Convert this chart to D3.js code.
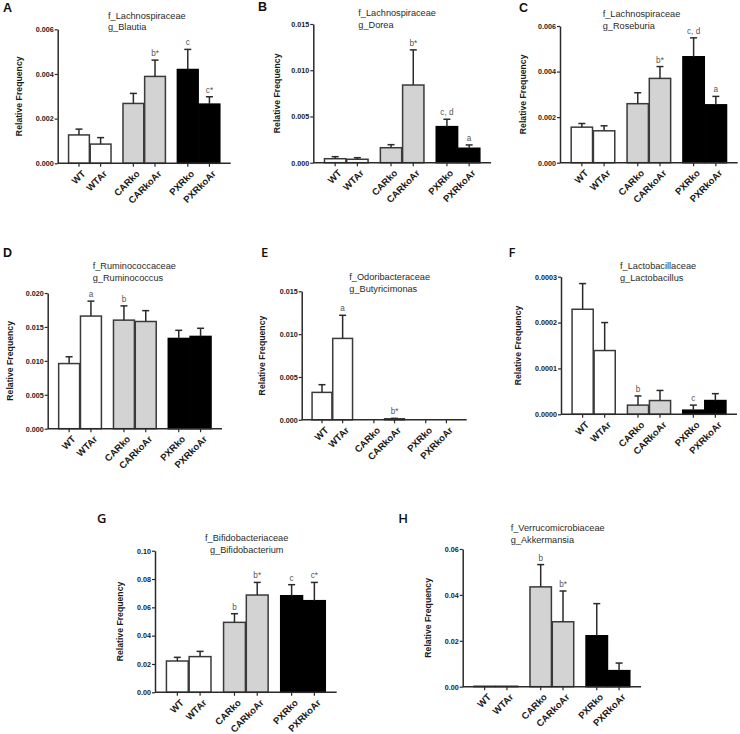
<!DOCTYPE html>
<html><head><meta charset="utf-8">
<script src="https://cdn.jsdelivr.net/npm/d3@7"></script>
<style>body{margin:0;background:#fff}svg{display:block}</style>
</head><body>
<script>
// ---------- data ----------
const categories = ["WT","WTAr","CARko","CARkoAr","PXRko","PXRkoAr"];
const groups = ["WT","CARko","PXRko"];
const groupOf = [0,0,1,1,2,2];
const pairIndex = [0,1,0,1,0,1];
const groupFills = ["#ffffff","#d3d3d3","#000000"];

const blautiaMean = [0.00127,0.00086,0.00268,0.00389,0.0042,0.00265];
const blautiaSem  = [0.00026,0.00029,0.00045,0.00073,0.0009,0.00033];
const blautiaSig  = ["","","","b*","c","c*"];

const doreaMean = [0.00043,0.00037,0.00162,0.0084,0.0039,0.00156];
const doreaSem  = [0.00022,0.00017,0.00033,0.0038,0.0008,0.00036];
const doreaSig  = ["","","","b*","c, d","a"];

const roseburiaMean = [0.00156,0.0014,0.00259,0.0037,0.00465,0.00254];
const roseburiaSem  = [0.00016,0.00022,0.00048,0.00052,0.00083,0.00037];
const roseburiaSig  = ["","","","b*","c, d","a"];

const ruminococcusMean = [0.0096,0.0166,0.016,0.0158,0.0133,0.0136];
const ruminococcusSem  = [0.001,0.0022,0.0021,0.0016,0.0012,0.0012];
const ruminococcusSig  = ["","a","b","","",""];

const butyricimonasMean = [0.0032,0.0095,0,0.00012,0,0];
const butyricimonasSem  = [0.0009,0.0027,0,0.00005,0,0];
const butyricimonasSig  = ["","a","","b*","",""];

const lactobacillusMean = [0.000229,0.000139,0.00002,0.00003,0.000009,0.00003];
const lactobacillusSem  = [0.000056,0.000061,0.00002,0.000022,0.000011,0.000015];
const lactobacillusSig  = ["","","b","","c",""];

const bifidoMean = [0.0221,0.0252,0.0494,0.0687,0.0682,0.0647];
const bifidoSem  = [0.0026,0.0037,0.0061,0.0089,0.0078,0.0129];
const bifidoSig  = ["","","b","b*","c","c*"];

const akkermansiaMean = [0.0002,0.0002,0.0435,0.0283,0.0222,0.007];
const akkermansiaSem  = [0,0,0.0097,0.0134,0.014,0.0033];
const akkermansiaSig  = ["","","b","b*","",""];

const ticks3 = [0,0.002,0.004,0.006];
const ticks15 = [0,0.005,0.010,0.015];
const ticks20 = [0,0.005,0.010,0.015,0.020];
const ticksF = [0,0.0001,0.0002,0.0003];
const ticksG = [0,0.02,0.04,0.06,0.08,0.10];
const ticksH = [0,0.02,0.04,0.06];

// ---------- layout ----------
const panels = [
 {letter:"A",lx:3,ly:12,bold:true,fam:"f_Lachnospiraceae",gen:"g_Blautia",tx:108,ty:18.5,ta:"start",
  x0:57.7,x1:230.7,yb:163.3,yt:29.3,ticks:ticks3,fmt:".3f",ylo:38.5,mean:blautiaMean,sem:blautiaSem,sig:blautiaSig},
 {letter:"B",lx:258,ly:11,bold:true,fam:"f_Lachnospiraceae",gen:"g_Dorea",tx:358.3,ty:16,ta:"start",
  x0:313.3,x1:491,yb:162.7,yt:24,ticks:ticks15,fmt:".3f",ylo:36.6,mean:doreaMean,sem:doreaSem,sig:doreaSig},
 {letter:"C",lx:519,ly:12,bold:true,fam:"f_Lachnospiraceae",gen:"g_Roseburia",tx:602.7,ty:17.3,ta:"start",
  x0:560,x1:737.7,yb:162.7,yt:26,ticks:ticks3,fmt:".3f",ylo:36.7,mean:roseburiaMean,sem:roseburiaSem,sig:roseburiaSig},
 {letter:"D",lx:3,ly:257,bold:true,fam:"f_Ruminococcaceae",gen:"g_Ruminococcus",tx:92.7,ty:269.3,ta:"start",
  x0:47.7,x1:222,yb:428.7,yt:293,ticks:ticks20,fmt:".3f",ylo:37.7,mean:ruminococcusMean,sem:ruminococcusSem,sig:ruminococcusSig},
 {letter:"E",lx:261,ly:257,bold:false,fam:"f_Odoribacteraceae",gen:"g_Butyricimonas",tx:349.3,ty:280,ta:"start",
  x0:301.7,x1:466.7,yb:419.8,yt:291.3,ticks:ticks15,fmt:".3f",ylo:39.4,mean:butyricimonasMean,sem:butyricimonasSem,sig:butyricimonasSig},
 {letter:"F",lx:508.5,ly:257,bold:false,fam:"f_Lactobacillaceae",gen:"g_Lactobacillus",tx:620,ty:269,ta:"start",
  x0:561,x1:737,yb:414.3,yt:276.7,ticks:ticksF,fmt:".4f",ylo:42.7,mean:lactobacillusMean,sem:lactobacillusSem,sig:lactobacillusSig},
 {letter:"G",lx:97,ly:523,bold:false,fam:"f_Bifidobacteriaceae",gen:"g_Bifidobacterium",tx:246.7,ty:541,ta:"middle",
  x0:155,x1:336.7,yb:692.3,yt:550.7,ticks:ticksG,fmt:".2f",ylo:35,mean:bifidoMean,sem:bifidoSem,sig:bifidoSig},
 {letter:"H",lx:398.3,ly:523,bold:false,fam:"f_Verrucomicrobiaceae",gen:"g_Akkermansia",tx:510.7,ty:531,ta:"start",
  x0:462.7,x1:641,yb:686.7,yt:549,ticks:ticksH,fmt:".2f",ylo:34.4,mean:akkermansiaMean,sem:akkermansiaSem,sig:akkermansiaSig}
];

const FONT = "'Liberation Sans', Arial, sans-serif";
const svg = d3.select("body").append("svg").attr("width",740).attr("height",734)
  .style("font-family",FONT);

panels.forEach(p => {
  const g = svg.append("g");
  const yMax = p.ticks[p.ticks.length-1];
  const y = d3.scaleLinear().domain([0,yMax]).range([p.yb,p.yt]);
  const gx = d3.scaleBand().domain(groups).range([p.x0,p.x1]).paddingInner(0.22).paddingOuter(0.2);
  const ix = d3.scaleBand().domain([0,1]).range([0,gx.bandwidth()]).paddingInner(0.04);
  const bx = i => gx(groups[groupOf[i]]) + ix(pairIndex[i]);
  const cx = i => bx(i) + ix.bandwidth()/2;

  // panel letter
  g.append("text").attr("x",p.lx).attr("y",p.ly)
    .style("font-family", p.bold ? FONT : "'Open Sans', sans-serif")
    .attr("font-weight", p.bold ? "bold" : "600")
    .attr("font-size", p.bold ? 12.5 : 13).attr("fill","#111").text(p.letter);

  // title
  g.append("text").attr("x",p.tx).attr("y",p.ty).attr("text-anchor",p.ta)
    .attr("font-size",9.2).attr("fill","#2a2a2a").text(p.fam);
  g.append("text").attr("x",p.tx).attr("y",p.ty+11.5).attr("text-anchor",p.ta)
    .attr("font-size",9.2).attr("fill","#2a2a2a").text(p.gen);

  // y label
  const ycen = (p.yb+p.yt)/2;
  g.append("text").attr("transform",`translate(${p.x0-p.ylo},${ycen}) rotate(-90)`)
    .attr("text-anchor","middle").attr("dy","0.35em")
    .attr("font-size",8.7).attr("font-weight","bold").attr("fill","#1a1a1a")
    .text("Relative Frequency");

  // bars
  const idx = d3.range(categories.length);
  g.selectAll("rect.bar").data(idx).join("rect").attr("class","bar")
    .attr("x",i=>bx(i)).attr("width",ix.bandwidth())
    .attr("y",i=>y(p.mean[i])).attr("height",i=>p.yb-y(p.mean[i]))
    .attr("fill",i=>groupFills[groupOf[i]])
    .attr("stroke",i=>groupOf[i]===2?"#000":"#3a3a3a").attr("stroke-width",1.5);

  // error bars
  const eb = idx.filter(i=>p.sem[i]>0);
  g.selectAll("line.err").data(eb).join("line").attr("class","err")
    .attr("x1",cx).attr("x2",cx)
    .attr("y1",i=>y(p.mean[i])).attr("y2",i=>y(p.mean[i]+p.sem[i]))
    .attr("stroke","#2a2a2a").attr("stroke-width",1.5);
  g.selectAll("line.cap").data(eb).join("line").attr("class","cap")
    .attr("x1",i=>cx(i)-3.5).attr("x2",i=>cx(i)+3.5)
    .attr("y1",i=>y(p.mean[i]+p.sem[i])).attr("y2",i=>y(p.mean[i]+p.sem[i]))
    .attr("stroke","#2a2a2a").attr("stroke-width",1.5);

  // significance letters
  g.selectAll("text.sig").data(idx.filter(i=>p.sig[i])).join("text").attr("class","sig")
    .attr("x",cx).attr("y",i=>y(p.mean[i]+p.sem[i])-4)
    .attr("text-anchor","middle").attr("font-size",8.2).attr("fill","#555")
    .text(i=>p.sig[i]);

  // y axis
  const ya = g.append("g").attr("transform",`translate(${p.x0},0)`)
    .call(d3.axisLeft(y).tickValues(p.ticks).tickFormat(d3.format(p.fmt)).tickSize(3).tickSizeOuter(0));
  ya.select(".domain").attr("stroke","#2a2a2a").attr("stroke-width",1.5);
  ya.selectAll(".tick line").attr("stroke","#2a2a2a").attr("stroke-width",1.2);
  ya.selectAll(".tick text").attr("font-size",7.2).attr("font-weight","bold")
    .attr("fill","#1a1a1a").style("font-family",FONT).attr("x",-4);

  // x axis
  g.append("line").attr("x1",p.x0).attr("x2",p.x1).attr("y1",p.yb).attr("y2",p.yb)
    .attr("stroke","#2a2a2a").attr("stroke-width",1.5);
  g.selectAll("line.xt").data(idx).join("line").attr("class","xt")
    .attr("x1",cx).attr("x2",cx).attr("y1",p.yb).attr("y2",p.yb+3.5)
    .attr("stroke","#2a2a2a").attr("stroke-width",1.2);
  g.selectAll("text.xl").data(idx).join("text").attr("class","xl")
    .attr("transform",i=>`translate(${cx(i)+3},${p.yb+7}) rotate(-45)`)
    .attr("text-anchor","end").attr("dy","0.6em")
    .attr("font-size",9.5).attr("font-weight","bold").attr("fill","#1a1a1a")
    .text(i=>categories[i]);
});
</script>
</body></html>
